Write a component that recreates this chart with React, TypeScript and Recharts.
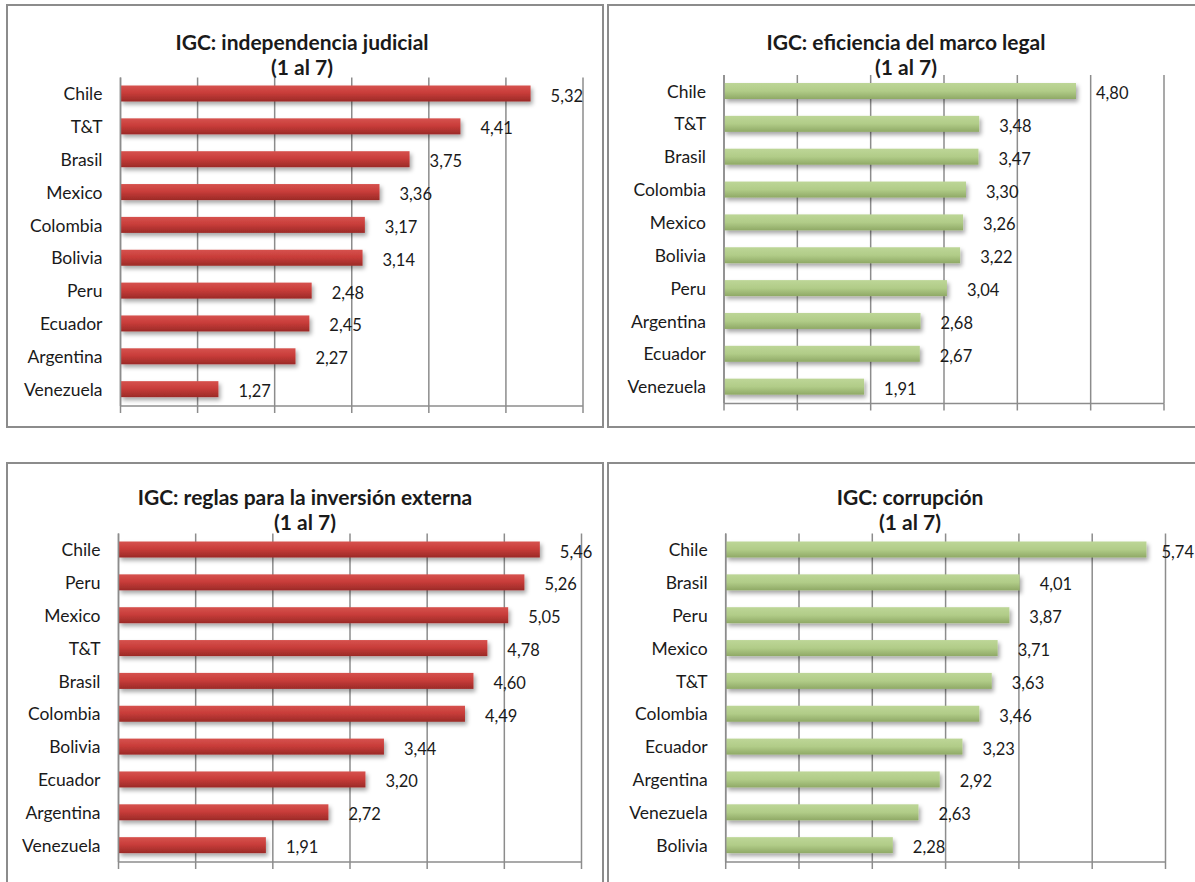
import React from 'react';
import { BarChart, Bar, XAxis, YAxis, CartesianGrid, LabelList } from 'recharts';

// ---- Data ----
const judicialCountries = ['Chile', 'T&T', 'Brasil', 'Mexico', 'Colombia', 'Bolivia', 'Peru', 'Ecuador', 'Argentina', 'Venezuela'];
const judicialValues = [5.32, 4.41, 3.75, 3.36, 3.17, 3.14, 2.48, 2.45, 2.27, 1.27];

const legalCountries = ['Chile', 'T&T', 'Brasil', 'Colombia', 'Mexico', 'Bolivia', 'Peru', 'Argentina', 'Ecuador', 'Venezuela'];
const legalValues = [4.8, 3.48, 3.47, 3.3, 3.26, 3.22, 3.04, 2.68, 2.67, 1.91];

const investCountries = ['Chile', 'Peru', 'Mexico', 'T&T', 'Brasil', 'Colombia', 'Bolivia', 'Ecuador', 'Argentina', 'Venezuela'];
const investValues = [5.46, 5.26, 5.05, 4.78, 4.6, 4.49, 3.44, 3.2, 2.72, 1.91];

const corruptionCountries = ['Chile', 'Brasil', 'Peru', 'Mexico', 'T&T', 'Colombia', 'Ecuador', 'Argentina', 'Venezuela', 'Bolivia'];
const corruptionValues = [5.74, 4.01, 3.87, 3.71, 3.63, 3.46, 3.23, 2.92, 2.63, 2.28];

const xTicks = [0, 1, 2, 3, 4, 5, 6];
const titleSubtitle = '(1 al 7)';

const FONT = 'Lato, "Open Sans", "DejaVu Sans", sans-serif';
const GRID = '#8c8c8c';
const TEXT = '#1a1a1a';

const toRows = (cats: string[], vals: number[]) => cats.map((c, i) => ({ name: c, value: vals[i] }));
const fmt = (v: number) => Number(v).toFixed(2).replace('.', ',');

const makeShape = (gradId: string) => (props: any) => {
  const { x, y, width, height } = props;
  if (width == null || height == null) return null;
  return (
    <rect x={x} y={y} width={width} height={height} fill={`url(#${gradId})`} filter="url(#barShadow)" />
  );
};

const makeValueLabel = (maxX: number) => (props: any) => {
  const { x, y, width, height, value } = props;
  const lx = Math.min(Number(x) + Number(width) + 20, maxX);
  return (
    <text
      x={lx}
      y={Number(y) + Number(height) / 2 + 2}
      dominantBaseline="central"
      fontSize={16.5}
      fontFamily={FONT}
      fill={TEXT}
    >
      {fmt(value)}
    </text>
  );
};

type Box = { left: number; top: number; width: number; height: number };
type Plot = { left: number; right: number; top: number; bottom: number };

function Panel({ box, plot, title, rows, gradId, titleTop, titleCx }: { box: Box; plot: Plot; title: string; rows: any[]; gradId: string; titleTop: number; titleCx: number }) {
  const yw = plot.left - box.left;
  const mr = box.left + box.width - plot.right;
  const mt = plot.top - box.top;
  const xh = box.top + box.height - plot.bottom;
  const labelMax = plot.right - box.left - 4;
  return (
    <>
      <div
        style={{
          position: 'absolute',
          left: box.left - 1,
          top: box.top - 1,
          width: box.width + 2,
          height: box.height + 2,
          border: `2px solid ${GRID}`,
          boxSizing: 'border-box',
        }}
      />
      <div
        style={{
          position: 'absolute',
          left: titleCx - 250,
          width: 500,
          top: titleTop,
          textAlign: 'center',
          fontFamily: FONT,
          fontWeight: 700,
          fontSize: 21,
          lineHeight: '25px',
          color: TEXT,
        }}
      >
        <div>{title}</div>
        <div>{titleSubtitle}</div>
      </div>
      <div style={{ position: 'absolute', left: box.left, top: box.top }}>
        <BarChart
          width={box.width}
          height={box.height}
          data={rows}
          layout="vertical"
          margin={{ top: mt, right: mr, bottom: 0, left: 0 }}
        >
          <CartesianGrid horizontal={false} stroke={GRID} strokeWidth={1.5} />
          <XAxis
            type="number"
            domain={[0, 6]}
            ticks={xTicks}
            height={xh}
            tickFormatter={() => ''}
            tickSize={7}
            tickLine={{ stroke: GRID, strokeWidth: 1.5 }}
            axisLine={{ stroke: GRID, strokeWidth: 1.5 }}
            allowDataOverflow
          />
          <YAxis
            type="category"
            dataKey="name"
            width={yw}
            interval={0}
            tickLine={false}
            tickSize={0}
            tickMargin={18}
            axisLine={{ stroke: GRID, strokeWidth: 1.5 }}
            tick={{ fontSize: 17.5, fill: TEXT, fontFamily: FONT }}
          />
          <Bar dataKey="value" barSize={16} isAnimationActive={false} shape={makeShape(gradId)}>
            <LabelList dataKey="value" content={makeValueLabel(labelMax)} />
          </Bar>
        </BarChart>
      </div>
    </>
  );
}

export default function App() {
  return (
    <div style={{ position: 'absolute', left: 0, top: 0, width: 1195, height: 882, overflow: 'hidden', background: '#fff' }}>
      <svg width={0} height={0} style={{ position: 'absolute' }}>
        <defs>
          <linearGradient id="redGrad" x1="0" y1="0" x2="0" y2="1">
            <stop offset="0%" stopColor="#d6524e" />
            <stop offset="45%" stopColor="#c93d3a" />
            <stop offset="100%" stopColor="#9b2a27" />
          </linearGradient>
          <linearGradient id="greenGrad" x1="0" y1="0" x2="0" y2="1">
            <stop offset="0%" stopColor="#bdd697" />
            <stop offset="50%" stopColor="#b1cc88" />
            <stop offset="100%" stopColor="#8fa966" />
          </linearGradient>
          <filter id="barShadow" x="-5%" y="-60%" width="115%" height="260%">
            <feDropShadow dx="2" dy="3" stdDeviation="2" floodColor="#000" floodOpacity="0.35" />
          </filter>
        </defs>
      </svg>
      <Panel
        box={{ left: 7, top: 5, width: 596, height: 422 }}
        plot={{ left: 120.5, right: 583, top: 77.5, bottom: 406 }}
        title="IGC: independencia judicial"
        rows={toRows(judicialCountries, judicialValues)}
        gradId="redGrad"
        titleTop={29}
        titleCx={302}
      />
      <Panel
        box={{ left: 608, top: 5, width: 596, height: 422 }}
        plot={{ left: 724, right: 1164, top: 75, bottom: 403.5 }}
        title="IGC: eficiencia del marco legal"
        rows={toRows(legalCountries, legalValues)}
        gradId="greenGrad"
        titleTop={29}
        titleCx={906}
      />
      <Panel
        box={{ left: 7, top: 463, width: 596, height: 440 }}
        plot={{ left: 118.5, right: 581.5, top: 533.5, bottom: 862 }}
        title="IGC: reglas para la inversión externa"
        rows={toRows(investCountries, investValues)}
        gradId="redGrad"
        titleTop={484}
        titleCx={305}
      />
      <Panel
        box={{ left: 608, top: 463, width: 596, height: 440 }}
        plot={{ left: 725.7, right: 1165.5, top: 533.5, bottom: 862 }}
        title="IGC: corrupción"
        rows={toRows(corruptionCountries, corruptionValues)}
        gradId="greenGrad"
        titleTop={484}
        titleCx={910}
      />
    </div>
  );
}
